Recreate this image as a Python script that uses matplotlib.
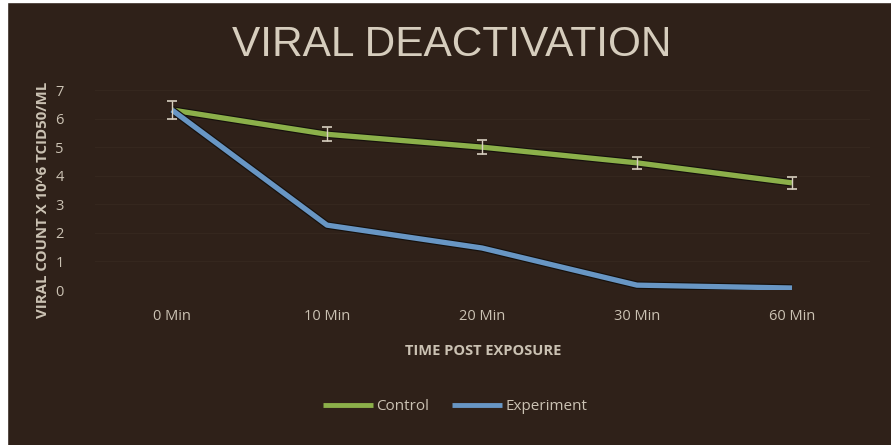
import matplotlib
matplotlib.use("Agg")
import matplotlib.pyplot as plt
import matplotlib.patheffects as pe
import numpy as np

categories = ["0 Min", "10 Min", "20 Min", "30 Min", "60 Min"]
control = [6.3, 5.45, 5.0, 4.45, 3.75]
control_err = [0.33, 0.25, 0.25, 0.22, 0.2]
experiment = [6.3, 2.27, 1.47, 0.17, 0.07]
yticks = [0, 1, 2, 3, 4, 5, 6, 7]

bg = "#2f2119"
txt = "#cbc2b3"
green = "#8cb04a"
blue = "#6896c4"

fig = plt.figure(figsize=(8.91, 4.45), dpi=100)
fig.patch.set_facecolor(bg)
# white photo border strips
fig.patches.append(plt.Rectangle((0, 0), 7/891, 1, transform=fig.transFigure, color="white", zorder=10))
fig.patches.append(plt.Rectangle((0, 443/445), 1, 2/445, transform=fig.transFigure, color="white", zorder=10))

ax = fig.add_axes([94.5/891, (445-290)/445, 775/891, 200/445])
ax.set_facecolor("none")
x = np.arange(len(categories))
shadow = [pe.Stroke(linewidth=5.5, foreground="#15100c"), pe.Normal()]
ax.plot(x, control, color=green, lw=3.8, label="Control", path_effects=shadow, zorder=3, solid_capstyle="butt")
ax.errorbar(x, control, yerr=control_err, fmt="none", ecolor="#d8d0c0", elinewidth=1.0, capsize=3.5, capthick=1.2, zorder=4)
ax.plot(x, experiment, color=blue, lw=3.8, label="Experiment", path_effects=shadow, zorder=3, solid_capstyle="butt")

ax.set_xlim(-0.5, len(categories) - 0.5)
ax.set_ylim(0, 7)
ax.set_xticks(x)
ax.set_xticklabels(categories)
ax.set_yticks(yticks)
for s in ax.spines.values():
    s.set_visible(False)
ax.tick_params(length=0, colors=txt, labelsize=10.5)
ax.tick_params(axis="x", pad=14)
ax.tick_params(axis="y", pad=22)
for lab in ax.get_xticklabels() + ax.get_yticklabels():
    lab.set_fontfamily("Open Sans")
ax.grid(axis="y", color="#35271e", lw=0.8)
ax.set_axisbelow(True)

fig.text(452/891, 1 - 45/445, "VIRAL DEACTIVATION", ha="center", va="center",
         fontsize=30.5, color="#d6cdbd", family="Liberation Sans")
fig.text(483/891, 1 - 351/445, "TIME POST EXPOSURE", ha="center", va="center",
         fontsize=10.5, color=txt, family="Open Sans", fontweight="bold")
fig.text(43/891, 1 - 200/445, "VIRAL COUNT X 10^6 TCID50/ML", ha="center", va="center",
         rotation=90, fontsize=10.8, color=txt, family="Open Sans", fontweight="bold")

leg = fig.legend(loc="center", bbox_to_anchor=(455/891, 1 - 407/445), ncol=2, frameon=False,
                 prop={"family": "Open Sans", "size": 11}, handlelength=3.3, columnspacing=1.5,
                 handletextpad=0.2)
for t in leg.get_texts():
    t.set_color(txt)
for h in leg.get_lines():
    h.set_path_effects([])
    h.set_linewidth(3.5)

fig.savefig("out.png", dpi=100, facecolor=fig.get_facecolor())
